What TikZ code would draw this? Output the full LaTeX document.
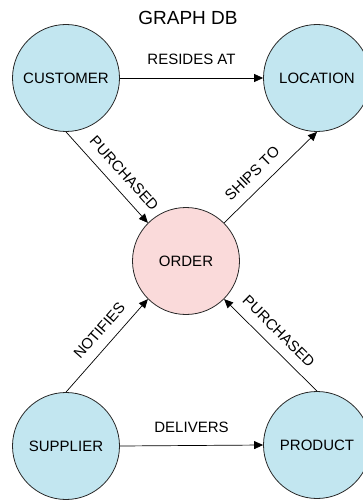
\documentclass[tikz,border=0pt]{standalone}
\usepackage{fontspec}
\setmainfont{Liberation Sans}
\usetikzlibrary{arrows.meta}
\definecolor{entityblue}{RGB}{194,230,240}
\definecolor{orderpink}{RGB}{250,218,218}
\definecolor{rimgray}{RGB}{40,40,40}
\tikzset{
  entity/.style={circle, draw=rimgray, line width=0.8pt, fill=entityblue,
    minimum size=107pt, inner sep=0pt, font=\fontsize{15}{15}\selectfont},
  hub/.style={entity, fill=orderpink},
  rel/.style={-{Triangle[length=9pt,width=8pt]}, line width=0.7pt, black},
  rellabel/.style={font=\fontsize{15}{15}\selectfont, inner sep=1pt},
}
\begin{document}
\begin{tikzpicture}[x=1pt,y=-1pt]
  \useasboundingbox (0,0) rectangle (363,500);

  \node[font=\fontsize{19}{19}\selectfont] (title) at (188,18) {GRAPH DB};

  \node[entity] (customer) at (66,78) {CUSTOMER};
  \node[entity] (location) at (317,78) {LOCATION};
  \node[hub]    (order)    at (186,261) {ORDER};
  \node[entity] (supplier) at (66,446) {SUPPLIER};
  \node[entity] (product)  at (317,445) {PRODUCT};

  \draw[rel] (customer.east) -- node[rellabel, above=12pt] {RESIDES AT} (location.west);
  \draw[rel] (supplier.east) -- node[rellabel, above=12pt] {DELIVERS} (product.west);

  \draw[rel] (customer.south) -- node[rellabel, sloped, above=9pt, pos=0.57] {PURCHASED} (order.135);
  \draw[rel] (order.45) -- node[rellabel, sloped, above=9pt, pos=0.42] {SHIPS TO} (location.south);
  \draw[rel] (supplier.north) -- node[rellabel, sloped, above=9pt, pos=0.55] {NOTIFIES} (order.225);
  \draw[rel] (product.north) -- node[rellabel, sloped, above=9pt, pos=0.53] {PURCHASED} (order.315);
\end{tikzpicture}
\end{document}
